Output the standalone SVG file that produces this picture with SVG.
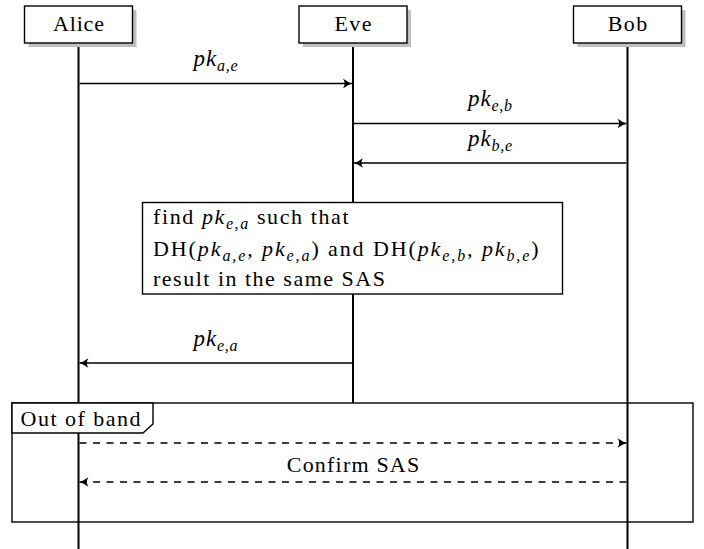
<svg xmlns="http://www.w3.org/2000/svg" width="704" height="549" viewBox="0 0 704 549">
<style>
  text, tspan { font-family: "Liberation Serif", serif; }
  text { font-size: 22px; fill: #000; }
  .it { font-style: italic; }
  .sub { font-style: italic; font-size: 16px; }
  .lbl { font-size: 23px; letter-spacing: 0.8px; }
  .box { fill: #fff; stroke: #000; stroke-width: 1.4; }
  .shadow { fill: #bfbfbf; stroke: none; }
  .life { stroke: #000; stroke-width: 2; fill: none; }
  .msg { stroke: #000; stroke-width: 1.4; fill: none; marker-end: url(#arr); }
  .dash { stroke-dasharray: 7 6.5; }
  .frame { fill: none; stroke: #000; stroke-width: 1.4; }
  .tab { fill: #fff; stroke: #000; stroke-width: 1.4; }
</style>
<defs>
  <marker id="arr" markerUnits="userSpaceOnUse" markerWidth="12" markerHeight="12" viewBox="-10 -6 12 12" refX="0" refY="0" orient="auto">
    <path d="M0,0 C-3,-1 -6,-3 -9,-4.8 C-6.8,-2 -6.8,2 -9,4.8 C-6,3 -3,1 0,0 Z" fill="#000"/>
  </marker>
</defs>
<rect width="704" height="549" fill="#fff"/>

<g id="alice">
  <line class="life" x1="78.5" y1="42" x2="78.5" y2="549"/>
  <rect class="shadow" x="28.5" y="10" width="108" height="37"/>
  <rect class="box" x="24.5" y="6" width="108" height="37"/>
  <text x="78.9" y="31" text-anchor="middle" letter-spacing="0.8"><tspan>Alice</tspan></text>
</g>
<g id="eve">
  <line class="life" x1="353" y1="42" x2="353" y2="403"/>
  <rect class="shadow" x="303" y="10" width="108" height="37"/>
  <rect class="box" x="299" y="6" width="108" height="37"/>
  <text x="353.7" y="31" text-anchor="middle" letter-spacing="1.4"><tspan>Eve</tspan></text>
</g>
<g id="bob">
  <line class="life" x1="627.5" y1="42" x2="627.5" y2="549"/>
  <rect class="shadow" x="577.5" y="10" width="108" height="37"/>
  <rect class="box" x="573.5" y="6" width="108" height="37"/>
  <text x="628.2" y="31" text-anchor="middle" letter-spacing="1.4"><tspan>Bob</tspan></text>
</g>

<g id="note">
  <rect class="box" x="142.5" y="202.5" width="420" height="91.5"/>
  <text x="153" y="224" letter-spacing="1.6"><tspan>find </tspan><tspan class="it">pk</tspan><tspan class="sub" dy="5">e,a</tspan><tspan dy="-5"> such that</tspan></text>
  <text x="153" y="255.5" letter-spacing="1.9"><tspan>DH(</tspan><tspan class="it">pk</tspan><tspan class="sub" dy="5">a,e</tspan><tspan dy="-5" class="it">, pk</tspan><tspan class="sub" dy="5">e,a</tspan><tspan dy="-5">) and DH(</tspan><tspan class="it">pk</tspan><tspan class="sub" dy="5">e,b</tspan><tspan dy="-5" class="it">, pk</tspan><tspan class="sub" dy="5">b,e</tspan><tspan dy="-5">)</tspan></text>
  <text x="153" y="286" letter-spacing="1.5"><tspan>result in the same SAS</tspan></text>
</g>

<g id="frame-out-of-band">
  <rect class="frame" x="12" y="403" width="681" height="119"/>
  <path class="tab" d="M12,403 L12,433 L143,433 L153,424 L153,403 Z"/>
  <text x="20.5" y="426" letter-spacing="1.5"><tspan>Out of band</tspan></text>
</g>

<g id="connectors">
  <line class="msg" x1="79.5" y1="83.5" x2="352" y2="83.5"/>
  <text class="lbl" x="216" y="66" text-anchor="middle"><tspan class="it">pk</tspan><tspan class="sub" dy="5">a,e</tspan></text>
  <line class="msg" x1="354" y1="123.5" x2="626.5" y2="123.5"/>
  <text class="lbl" x="490.5" y="106" text-anchor="middle"><tspan class="it">pk</tspan><tspan class="sub" dy="5">e,b</tspan></text>
  <line class="msg" x1="626.5" y1="163" x2="354" y2="163"/>
  <text class="lbl" x="490.5" y="146" text-anchor="middle"><tspan class="it">pk</tspan><tspan class="sub" dy="5">b,e</tspan></text>
  <line class="msg" x1="352" y1="363" x2="79.5" y2="363"/>
  <text class="lbl" x="216" y="346" text-anchor="middle"><tspan class="it">pk</tspan><tspan class="sub" dy="5">e,a</tspan></text>
  <line class="msg dash" x1="79.5" y1="443" x2="626.5" y2="443"/>
  <line class="msg dash" x1="626.5" y1="482" x2="79.5" y2="482"/>
  <text x="353.6" y="472" text-anchor="middle" letter-spacing="1.2"><tspan>Confirm SAS</tspan></text>
</g>
</svg>
